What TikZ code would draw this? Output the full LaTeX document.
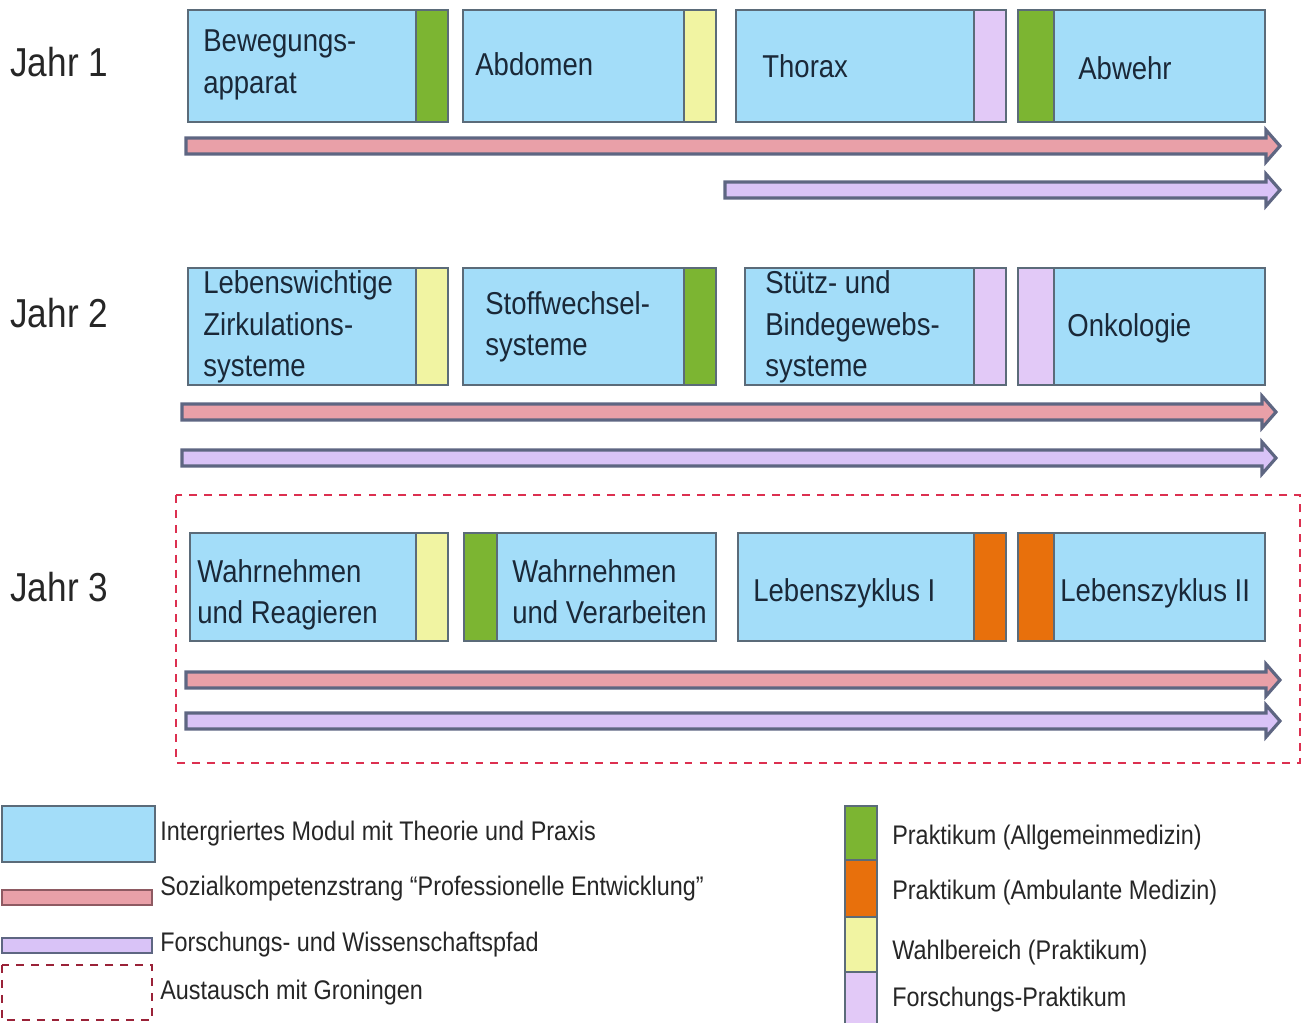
\documentclass[tikz,border=0pt]{standalone}
\usepackage{fontspec}
\setmainfont[FakeStretch=0.87]{Liberation Sans}
\usetikzlibrary{positioning,calc}
\definecolor{modblue}{HTML}{A3DDF9}
\definecolor{modedge}{HTML}{5B6B79}
\definecolor{pgreen}{HTML}{7CB532}
\definecolor{porange}{HTML}{E8700C}
\definecolor{pyellow}{HTML}{F1F4A2}
\definecolor{plilac}{HTML}{E2C9F7}
\definecolor{strpink}{HTML}{E9A0A8}
\definecolor{strlilac}{HTML}{D9C3F7}
\definecolor{stredge}{HTML}{5E6682}
\definecolor{pinkedge}{HTML}{8E5A62}
\definecolor{groningen}{HTML}{DC3050}
\definecolor{textdark}{HTML}{1A2838}

% bar with arrow head: x0, x1, y, fill
\newcommand{\strang}[4]{%
  \draw[strang, fill=#4] (#1,#3-8) -- (#2-14,#3-8) -- (#2-14,#3-16) -- (#2,#3)
    -- (#2-14,#3+16) -- (#2-14,#3+8) -- (#1,#3+8) -- cycle;}

\begin{document}
\begin{tikzpicture}[x=0.02cm, y=-0.02cm,
   modul/.style={draw=modedge, fill=modblue, line width=1.2pt},
   prak/.style={draw=modedge, line width=1.2pt},
   strang/.style={draw=stredge, line width=1.8pt, line join=miter},
   austausch/.style={draw=groningen, line width=1.3pt, dash pattern=on 4.5pt off 4pt},
   jahr/.style={anchor=west, inner sep=0, font=\fontsize{23}{28}\selectfont, text=black!85},
   modtext/.style={anchor=west, inner sep=0, align=left, font=\fontsize{18}{23.5}\selectfont, text=textdark},
   legtext/.style={anchor=west, inner sep=0, font=\fontsize{15.3}{19}\selectfont, text=black!85}]

    \useasboundingbox (0,0) rectangle (1305,1023);

    % Jahr 1
    \node[jahr] (j1) at (10,62) {Jahr 1};
    \draw[modul] (188,10) rectangle (416,122);
    \draw[prak, fill=pgreen] (416,10) rectangle (448,122);
    \draw[modul] (463,10) rectangle (684,122);
    \draw[prak, fill=pyellow] (684,10) rectangle (716,122);
    \draw[modul] (736,10) rectangle (974,122);
    \draw[prak, fill=plilac] (974,10) rectangle (1006,122);
    \draw[modul] (1054,10) rectangle (1265,122);
    \draw[prak, fill=pgreen] (1018,10) rectangle (1054,122);
    \node[modtext] (bewegung) at (203,65) {Bewegungs-\\apparat};
    \node[modtext] (abdomen) at (475,64) {Abdomen};
    \node[modtext] (thorax) at (762,66) {Thorax};
    \node[modtext] (abwehr) at (1078,68) {Abwehr};
    \strang{186}{1280}{146}{strpink}
    \strang{725}{1280}{190}{strlilac}

    % Jahr 2
    \node[jahr] (j2) at (10,313) {Jahr 2};
    \draw[modul] (188,268) rectangle (416,385);
    \draw[prak, fill=pyellow] (416,268) rectangle (448,385);
    \draw[modul] (463,268) rectangle (684,385);
    \draw[prak, fill=pgreen] (684,268) rectangle (716,385);
    \draw[modul] (745,268) rectangle (974,385);
    \draw[prak, fill=plilac] (974,268) rectangle (1006,385);
    \draw[modul] (1054,268) rectangle (1265,385);
    \draw[prak, fill=plilac] (1018,268) rectangle (1054,385);
    \node[modtext] (zirkulation) at (203,327) {Lebenswichtige\\Zirkulations-\\systeme};
    \node[modtext] (stoffwechsel) at (485,327) {Stoffwechsel-\\systeme};
    \node[modtext] (stuetz) at (765,327) {Stütz- und\\Bindegewebs-\\systeme};
    \node[modtext] (onkologie) at (1067,328) {Onkologie};
    \strang{182}{1276}{412}{strpink}
    \strang{182}{1276}{458}{strlilac}

    % Jahr 3 (Groningen)
    \draw[austausch] (176,495) rectangle (1300,763);
    \node[jahr] (j3) at (10,587) {Jahr 3};
    \draw[modul] (190,533) rectangle (416,641);
    \draw[prak, fill=pyellow] (416,533) rectangle (448,641);
    \draw[modul] (497,533) rectangle (716,641);
    \draw[prak, fill=pgreen] (464,533) rectangle (497,641);
    \draw[modul] (738,533) rectangle (974,641);
    \draw[prak, fill=porange] (974,533) rectangle (1006,641);
    \draw[modul] (1054,533) rectangle (1265,641);
    \draw[prak, fill=porange] (1018,533) rectangle (1054,641);
    \node[modtext] (reagieren) at (197,595) {Wahrnehmen\\und Reagieren};
    \node[modtext] (verarbeiten) at (512,592) {Wahrnehmen\\und Verarbeiten};
    \node[modtext] (zyklus1) at (753,593) {Lebenszyklus I};
    \node[modtext] (zyklus2) at (1060,593) {Lebenszyklus II};
    \strang{186}{1280}{680}{strpink}
    \strang{186}{1280}{721}{strlilac}

    % Legende
    \draw[modul] (2,806) rectangle (155,862);
    \draw[strang, fill=strpink, draw=pinkedge, line width=1.4pt] (2,890) rectangle (152,905);
    \draw[strang, fill=strlilac, line width=1.4pt] (2,938) rectangle (152,953);
    \draw[austausch, draw=groningen!70!black] (2,965) rectangle (152,1020);
    \node[legtext] (lmodul) at (160,834) {Intergriertes Modul mit Theorie und Praxis};
    \node[legtext] (lsozial) at (160,889) {Sozialkompetenzstrang “Professionelle Entwicklung”};
    \node[legtext] (lforsch) at (160,945) {Forschungs- und Wissenschaftspfad};
    \node[legtext] (lgron) at (160,993) {Austausch mit Groningen};

    \draw[prak, fill=pgreen] (845,806) rectangle (877,860);
    \draw[prak, fill=porange] (845,860) rectangle (877,917);
    \draw[prak, fill=pyellow] (845,917) rectangle (877,972);
    \draw[prak, fill=plilac] (845,972) rectangle (877,1030);
    \node[legtext] (lallg) at (892,838) {Praktikum (Allgemeinmedizin)};
    \node[legtext] (lamb) at (892,893) {Praktikum (Ambulante Medizin)};
    \node[legtext] (lwahl) at (892,953) {Wahlbereich (Praktikum)};
    \node[legtext] (lfp) at (892,1000) {Forschungs-Praktikum};
\end{tikzpicture}
\end{document}
